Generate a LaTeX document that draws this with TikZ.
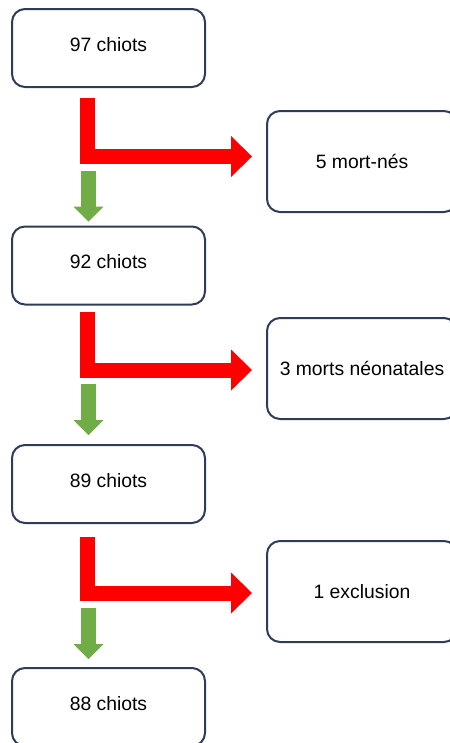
\documentclass[tikz,border=0pt]{standalone}
\usepackage{fontspec}
\setmainfont{Liberation Sans}
\usetikzlibrary{arrows.meta,calc}

\begin{document}
\begin{tikzpicture}[x=0.75pt,y=0.75pt,yscale=-1,xscale=1,
  leftbox/.style={draw={rgb, 255:red, 47; green, 60; blue, 88},line width=1.5pt,rounded corners=9.75pt,fill=white,font=\fontsize{14.5}{17}\selectfont,inner sep=0pt,minimum width=144.75pt,minimum height=58.5pt,text height=10.5pt,text depth=6pt},
  rightbox/.style={leftbox,minimum width=142.5pt,minimum height=75.75pt,text depth=0pt},
  redarrow/.style={draw={rgb, 255:red, 255; green, 0; blue, 0},line width=11.25pt,-{Triangle[length=15.75pt,width=30.75pt,line width=0pt]}},
  greenarrow/.style={draw={rgb, 255:red, 112; green, 173; blue, 71},line width=11.25pt,-{Triangle[length=11.25pt,width=22.5pt,line width=0pt]}}]
\useasboundingbox (0,0) rectangle (450,743);

% Text Node
\node[leftbox] (b1) at (108.5,48) {97 chiots};
% Text Node
\node[leftbox] (b2) at (108.5,265.5) {92 chiots};
% Text Node
\node[leftbox] (b3) at (108.5,484) {89 chiots};
% Text Node
\node[leftbox] (b4) at (108.5,707) {88 chiots};

% Text Node
\node[rightbox] (d1) at (362,161.5) {5 mort-nés};
% Text Node
\node[rightbox] (d2) at (362,368.5) {3 morts néonatales};
% Text Node
\node[rightbox] (d3) at (362,591.5) {1 exclusion};

%Bent Arrow
\draw[redarrow] ($(b1.south)+(-21,10)$) |- ($(d1.west)+(-14,-5)$);
%Bent Arrow
\draw[redarrow] ($(b2.south)+(-21,6.5)$) |- ($(d2.west)+(-14,1.5)$);
%Bent Arrow
\draw[redarrow] ($(b3.south)+(-21,13)$) |- ($(d3.west)+(-14,1.5)$);

%Down Arrow
\draw[greenarrow] ($(b1.south)+(-20,83)$) -- ($(b2.north)+(-20,-4)$);
%Down Arrow
\draw[greenarrow] ($(b2.south)+(-20,78.5)$) -- ($(b3.north)+(-20,-9)$);
%Down Arrow
\draw[greenarrow] ($(b3.south)+(-20,84)$) -- ($(b4.north)+(-20,-8)$);

\end{tikzpicture}
\end{document}
